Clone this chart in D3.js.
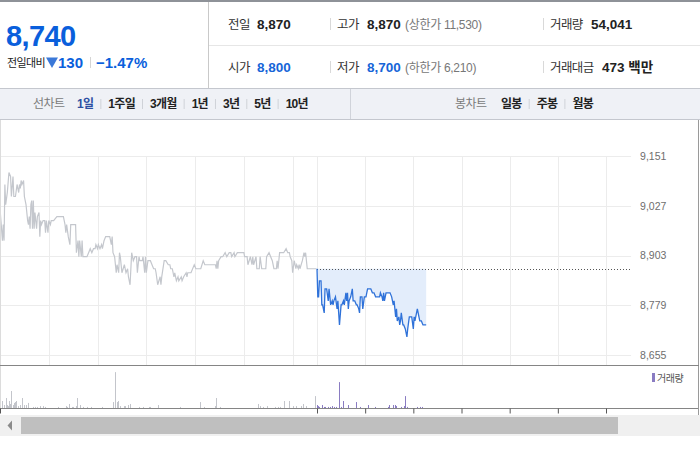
<!DOCTYPE html>
<html>
<head>
<meta charset="utf-8">
<script src="https://cdn.jsdelivr.net/npm/d3@7"></script>
<style>
  body { margin: 0; background: #fff; }
  svg { display: block; }
</style>
</head>
<body>
<div id="chart"></div>
<script>
// header quote
const lastPrice = "8,740";
const change = "130";
const changePct = "\u22121.47%";
const statRow1 = [["전일", "8,870", ""], ["고가", "8,870", "(상한가 11,530)"], ["거래량", "54,041", ""]];
const statRow2 = [["시가", "8,800", ""], ["저가", "8,700", "(하한가 6,210)"], ["거래대금", "473 백만", ""]];
const lineTabs = ["1일", "1주일", "3개월", "1년", "3년", "5년", "10년"];
const candleTabs = ["일봉", "주봉", "월봉"];

// price axis
const yTicks = [9151, 9027, 8903, 8779, 8655];
const prevClose = 8870;

// [minutes after 09:00, price] - previous session
const prevDay = [[0,9020],[3,8940],[4,8980],[5,8940],[6,9080],[7,9030],[9,9060],[11,9110],[13,9100],[14,9050],
  [16,9100],[17,9050],[19,9050],[21,9080],[23,9060],[24,9080],[25,9070],[26,9090],[27,9080],[29,9090],
  [30,9050],[32,9030],[34,8990],[35,8980],[36,9000],[37,8970],[38,9030],[39,9040],[40,8970],[41,9040],
  [42,8970],[43,9010],[45,8970],[46,9000],[48,9010],[49,8950],[50,8990],[51,8980],[53,8990],[55,8990],
  [56,8960],[57,8990],[59,8960],[60,8990],[62,8980],[63,8990],[66,8990],[70,9000],[78,9000],[80,8980],
  [81,8960],[82,8980],[84,8950],[86,8930],[87,8980],[90,8980],[93,8980],[94,8910],[96,8940],[97,8900],
  [98,8940],[100,8900],[101,8940],[102,8900],[107,8900],[109,8910],[111,8920],[113,8910],[115,8920],[117,8920],
  [118,8930],[120,8920],[121,8930],[123,8920],[125,8930],[126,8920],[128,8940],[130,8950],[133,8950],[135,8950],
  [137,8930],[138,8950],[139,8910],[141,8900],[143,8860],[144,8880],[146,8860],[147,8910],[148,8900],[150,8860],
  [153,8880],[155,8860],[157,8870],[158,8850],[160,8830],[161,8870],[162,8910],[164,8890],[166,8900],[168,8900],
  [169,8860],[171,8900],[172,8890],[175,8890],[176,8900],[178,8860],[179,8900],[180,8860],[182,8890],[185,8890],
  [189,8870],[191,8870],[192,8860],[194,8830],[197,8850],[198,8830],[199,8850],[202,8890],[204,8890],[207,8880],
  [209,8880],[210,8870],[212,8870],[214,8850],[215,8860],[217,8840],[219,8850],[220,8840],[223,8850],[224,8840],
  [226,8850],[229,8860],[230,8850],[231,8860],[235,8860],[239,8880],[241,8870],[245,8870],[247,8870],[250,8890],
  [252,8880],[265,8880],[266,8870],[267,8890],[268,8870],[269,8890],[272,8900],[274,8900],[277,8910],[279,8900],
  [282,8910],[284,8910],[285,8900],[288,8910],[289,8900],[292,8910],[300,8910],[301,8900],[304,8900],[305,8880],
  [308,8900],[310,8880],[311,8900],[312,8880],[315,8900],[316,8870],[319,8870],[320,8900],[322,8870],[327,8870],
  [328,8900],[331,8910],[333,8900],[335,8890],[337,8870],[340,8870],[341,8890],[342,8870],[344,8910],[347,8910],
  [349,8910],[352,8920],[354,8910],[356,8910],[357,8900],[359,8890],[360,8860],[362,8890],[364,8870],[365,8880],
  [367,8870],[368,8880],[369,8870],[372,8890],[374,8910],[375,8900],[376,8910],[378,8870],[384,8870],[389,8870]];

// [minutes after 09:00, price] - today
const today = [[0,8870],[1,8800],[2,8800],[3,8840],[5,8840],[6,8780],[7,8780],[9,8760],[10,8820],[12,8820],
  [14,8790],[15,8820],[16,8800],[17,8780],[19,8790],[20,8780],[21,8790],[23,8800],[25,8770],[26,8790],
  [28,8730],[30,8780],[31,8780],[33,8790],[34,8780],[36,8810],[37,8790],[38,8810],[39,8770],[40,8790],
  [42,8800],[44,8820],[45,8790],[47,8790],[49,8780],[50,8780],[52,8770],[53,8760],[54,8800],[56,8800],
  [57,8770],[59,8800],[61,8800],[63,8820],[65,8820],[67,8820],[69,8810],[71,8810],[73,8800],[78,8800],
  [79,8810],[81,8800],[82,8790],[83,8810],[84,8790],[86,8810],[88,8810],[91,8810],[93,8800],[94,8790],
  [95,8780],[96,8790],[98,8750],[99,8770],[100,8740],[102,8750],[103,8730],[104,8740],[105,8760],[107,8730],
  [108,8730],[110,8720],[112,8700],[113,8720],[115,8750],[117,8750],[118,8750],[120,8720],[121,8750],[122,8740],
  [124,8760],[125,8770],[127,8750],[128,8740],[130,8740],[132,8730],[133,8730],[136,8730]];

// [minutes after 09:00, shares]
const prevVolume = [[0,13700],[2,4000],[3,1100],[5,1700],[7,5700],[8,1700],[10,1100],[11,4000],[12,2300],[14,9700],
  [16,1700],[17,2900],[19,3400],[20,4000],[22,1100],[24,1100],[25,1700],[27,5700],[29,1700],[30,1100],
  [32,1700],[34,2900],[35,1100],[41,600],[43,600],[45,600],[49,1100],[53,1100],[55,600],[71,600],
  [81,1100],[83,600],[85,2300],[88,600],[90,600],[93,1100],[95,5700],[98,1700],[102,600],[107,600],
  [112,600],[125,600],[139,3400],[142,20500],[144,3400],[145,4000],[148,1100],[152,1100],[154,1100],[157,1700],
  [160,2300],[171,600],[176,600],[183,600],[185,600],[194,1700],[221,600],[246,3400],[251,600],[265,1100],
  [266,5700],[271,600],[317,2300],[320,1100],[324,600],[328,1100],[338,600],[342,600],[344,600],[350,4000],
  [356,4000],[361,1100],[364,1100],[370,1100],[373,2300],[376,1100],[388,6800]];
const todayVolume = [[0,1700],[1,1100],[3,600],[6,1700],[9,600],[10,600],[14,600],[16,600],[19,1100],[21,600],
  [24,600],[28,14800],[30,600],[33,4000],[39,1700],[49,3400],[53,600],[63,1700],[72,600],[88,600],
  [90,1700],[95,1700],[97,1700],[98,1100],[105,600],[108,1100],[110,6800],[112,600],[125,600],[128,600],[131,600]];

const session = 390; // 09:00 - 15:30
const hourGrid = [60, 120, 180, 240, 300, 360, 390, 450, 510, 570, 630, 690, 750];
const dayTicks = [0, 390, 450, 510, 570, 630, 690, 750];

const FONT = "'Liberation Sans', 'Noto Sans CJK KR', sans-serif";
const BLUE = "#0a5fdc";
const width = 700, height = 450;

const svg = d3.select("#chart").append("svg")
  .attr("width", width)
  .attr("height", height)
  .style("font-family", FONT);

// ---------- header ----------
svg.append("rect").attr("width", width).attr("height", 2).attr("fill", "#8e9298");
svg.append("line").attr("x1", 208.5).attr("x2", 208.5).attr("y1", 2).attr("y2", 88).attr("stroke", "#c9c9c9");
svg.append("line").attr("x1", 209).attr("x2", width).attr("y1", 45.5).attr("y2", 45.5).attr("stroke", "#e6e6e6");

svg.append("text").attr("x", 6).attr("y", 46)
  .attr("font-size", 29).attr("font-weight", 700).attr("letter-spacing", -0.6)
  .attr("fill", BLUE).text(lastPrice);
svg.append("text").attr("x", 7).attr("y", 67).attr("font-size", 11).attr("letter-spacing", -0.6)
  .attr("fill", "#222").text("전일대비");
svg.append("path").attr("d", "M46,57.5L58,57.5L52,68Z").attr("fill", "#3b78d8");
svg.append("text").attr("x", 58).attr("y", 68).attr("font-size", 15).attr("font-weight", 700)
  .attr("fill", BLUE).text(change);
svg.append("line").attr("x1", 90.5).attr("x2", 90.5).attr("y1", 57).attr("y2", 68).attr("stroke", "#d5d5d5");
svg.append("text").attr("x", 96).attr("y", 68).attr("font-size", 15).attr("font-weight", 700)
  .attr("fill", BLUE).text(changePct);

const labelX = [228, 337, 550];
const valueX = [257, 367, 591];
[statRow1, statRow2].forEach((row, ri) => {
  const base = ri === 0 ? 29 : 72;
  row.forEach((d, i) => {
    const g = svg.append("g");
    if (i > 0) {
      g.append("line").attr("x1", labelX[i] - 6.5).attr("x2", labelX[i] - 6.5)
        .attr("y1", base - 11).attr("y2", base + 1).attr("stroke", "#d9d9d9");
    }
    g.append("text").attr("x", labelX[i]).attr("y", base).attr("font-size", 12.5)
      .attr("letter-spacing", -0.6).attr("fill", "#333").text(d[0]);
    const vx = (ri === 1 && i === 2) ? 602 : valueX[i];
    const blueVal = ri === 1 && i < 2;
    g.append("text").attr("x", vx).attr("y", base).attr("font-size", 13.5)
      .attr("font-weight", 700).attr("fill", blueVal ? "#1665d8" : "#222").text(d[1]);
    if (d[2]) {
      g.append("text").attr("x", 405).attr("y", base).attr("font-size", 12)
        .attr("letter-spacing", -0.3).attr("fill", "#777").text(d[2]);
    }
  });
});

// ---------- tab bar ----------
svg.append("rect").attr("x", 0).attr("y", 88).attr("width", width).attr("height", 31)
  .attr("fill", "#eff1f6");
svg.append("line").attr("x1", 0).attr("x2", width).attr("y1", 88.5).attr("y2", 88.5).attr("stroke", "#c4c7ce");
svg.append("line").attr("x1", 0).attr("x2", width).attr("y1", 119.5).attr("y2", 119.5).attr("stroke", "#c4c7ce");
svg.append("line").attr("x1", 350.5).attr("x2", 350.5).attr("y1", 89).attr("y2", 119).attr("stroke", "#d0d3da");

function tabRow(title, titleX, items, startX) {
  svg.append("text").attr("x", titleX).attr("y", 108).attr("font-size", 12)
    .attr("letter-spacing", -0.6).attr("fill", "#7a7a7a").text(title);
  let x = startX;
  items.forEach((t, i) => {
    if (i > 0) {
      svg.append("line").attr("x1", x - 7.5).attr("x2", x - 7.5).attr("y1", 99).attr("y2", 109)
        .attr("stroke", "#cfd2d8");
    }
    const txt = svg.append("text").attr("x", x).attr("y", 108).attr("font-size", 12)
      .attr("font-weight", 700).attr("letter-spacing", -0.7)
      .attr("fill", title === "선차트" && i === 0 ? "#2d4fa3" : "#222").text(t);
    x += txt.node().getComputedTextLength() + 15;
  });
}
tabRow("선차트", 33, lineTabs, 77);
tabRow("봉차트", 455, candleTabs, 501);

// ---------- chart ----------
const x = d3.scaleLinear().domain([0, session, 750]).range([0, 317, 606]);
const y = d3.scaleLinear().domain([8655, 9151]).range([355, 156]);
const yVol = d3.scaleLinear().domain([0, 24000]).range([408, 366]);
const gridRight = x(2 * session) + 1;

const chart = svg.append("g");

// horizontal grid + labels
chart.append("g")
  .selectAll("line")
  .data(yTicks)
  .join("line")
    .attr("x1", 0).attr("x2", gridRight)
    .attr("y1", d => Math.round(y(d)) + 0.5).attr("y2", d => Math.round(y(d)) + 0.5)
    .attr("stroke", "#ececec");

chart.append("g")
  .attr("transform", `translate(${gridRight},0)`)
  .call(d3.axisRight(y).tickValues(yTicks).tickSize(0).tickPadding(9).tickFormat(d3.format(",")))
  .call(g => g.select(".domain").remove())
  .call(g => g.selectAll(".tick text")
      .attr("font-family", FONT).attr("font-size", 10.5).attr("fill", "#6e6e6e"));

// vertical grid
chart.append("g")
  .selectAll("line")
  .data(hourGrid)
  .join("line")
    .attr("x1", d => Math.round(x(d)) + 0.5).attr("x2", d => Math.round(x(d)) + 0.5)
    .attr("y1", 156).attr("y2", 365)
    .attr("stroke", "#ececec");

// today's area vs prev close
chart.append("path")
  .datum(today)
  .attr("fill", "#e3edfb")
  .attr("d", d3.area()
    .x(d => x(session + d[0]))
    .y0(y(prevClose))
    .y1(d => y(d[1])));

// previous close reference
chart.append("line")
  .attr("x1", x(session)).attr("x2", gridRight)
  .attr("y1", Math.round(y(prevClose)) + 0.5).attr("y2", Math.round(y(prevClose)) + 0.5)
  .attr("stroke", "#555").attr("stroke-dasharray", "1,2");

chart.append("path")
  .datum(prevDay)
  .attr("fill", "none")
  .attr("stroke", "#c4c7cd")
  .attr("stroke-width", 1.2)
  .attr("d", d3.line().x(d => x(d[0])).y(d => y(d[1])));

chart.append("path")
  .datum(today)
  .attr("fill", "none")
  .attr("stroke", "#2f72d9")
  .attr("stroke-width", 1.3)
  .attr("d", d3.line().x(d => x(session + d[0])).y(d => y(d[1])));

// panel borders
svg.append("line").attr("x1", 0.5).attr("x2", 0.5).attr("y1", 120).attr("y2", 408).attr("stroke", "#dcdcdc");
svg.append("line").attr("x1", 698.5).attr("x2", 698.5).attr("y1", 120).attr("y2", 415).attr("stroke", "#9a9a9a");
svg.append("line").attr("x1", 0).attr("x2", 699).attr("y1", 365.5).attr("y2", 365.5).attr("stroke", "#858585");

// volume
chart.append("g")
  .selectAll("rect")
  .data(prevVolume)
  .join("rect")
    .attr("x", d => Math.round(x(d[0])))
    .attr("width", 1)
    .attr("y", d => yVol(d[1]))
    .attr("height", d => yVol(0) - yVol(d[1]))
    .attr("fill", "#c3c5cb");

chart.append("g")
  .selectAll("rect")
  .data(todayVolume)
  .join("rect")
    .attr("x", d => Math.round(x(session + d[0])))
    .attr("width", 1)
    .attr("y", d => yVol(d[1]))
    .attr("height", d => yVol(0) - yVol(d[1]))
    .attr("fill", "#8a7cc2");

chart.append("g")
  .attr("transform", "translate(0,408.5)")
  .call(d3.axisBottom(x).tickValues(dayTicks).tickSize(5).tickFormat(""))
  .call(g => g.select(".domain").attr("d", "M0,0H699").attr("stroke", "#858585"))
  .call(g => g.selectAll(".tick line").attr("stroke", "#555"));

svg.append("rect").attr("x", 652).attr("y", 373).attr("width", 3).attr("height", 9).attr("fill", "#8a7cc2");
svg.append("text").attr("x", 657).attr("y", 381.5).attr("font-size", 10).attr("letter-spacing", -0.5)
  .attr("fill", "#555").text("거래량");

// scrollbar
svg.append("rect").attr("x", 0).attr("y", 415).attr("width", width).attr("height", 21).attr("fill", "#f0f0f0");
svg.append("path").attr("d", "M12,420.5L7.5,425.5L12,430.5Z").attr("fill", "#8a8a8a");
svg.append("rect").attr("x", 21).attr("y", 417).attr("width", 597).attr("height", 17).attr("fill", "#bfbfbf");
</script>
</body>
</html>
